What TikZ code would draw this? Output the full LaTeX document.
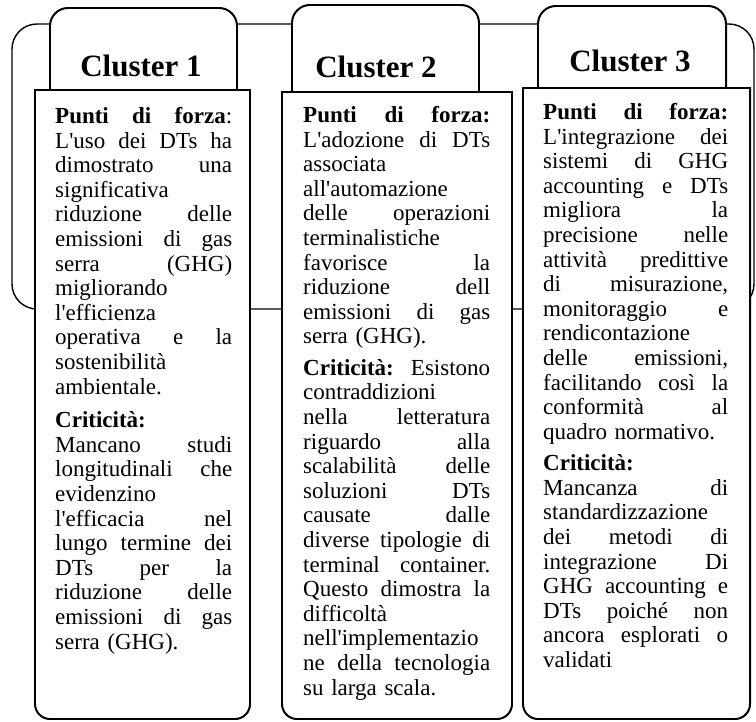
\documentclass[tikz,border=0pt]{standalone}
\usepackage{fontspec}
\setmainfont{Liberation Serif}
\usepackage{tikz}
\setlength{\parindent}{0pt}
\def\jl#1{\makebox[\hsize][s]{\spaceskip=.25em plus 1fil\xspaceskip=\spaceskip #1}}
\def\apo{\textquotesingle}

\begin{document}
\begin{tikzpicture}[x=1pt, y=-1pt,
		frame/.style={line width=0.5mm},
		tab/.style={line width=0.7mm, fill=white},
		box/.style={line width=0.7mm, fill=white},
		head/.style={anchor=base, font=\fontsize{31}{31}\selectfont\bfseries},
		txt/.style={anchor=north west, inner sep=0pt, align=left, font=\fontsize{23}{24.6}\selectfont}]
			%%%%% START %%%%%
			\useasboundingbox (0, 0) rectangle (756, 722);
			
			\draw[frame, rounded corners=25pt] (12, 24) rectangle (754, 309);
			
			\draw[tab] (50, 92) [rounded corners=18pt] -- (50, 8) -- (237, 8) [sharp corners] -- (237, 92);
			\draw[tab] (292, 94) [rounded corners=18pt] -- (292, 5) -- (479, 5) [sharp corners] -- (479, 94);
			\draw[tab] (538, 90) [rounded corners=18pt] -- (538, 6) -- (726, 6) [sharp corners] -- (726, 90);
			
			\node[head] (c1) at (141, 77) {Cluster 1};
			\node[head] (c2) at (376, 78) {Cluster 2};
			\node[head] (c3) at (630, 72) {Cluster 3};
			
			\draw[box] (35, 90) [rounded corners=15pt] -- (35, 719) -- (250, 719) [sharp corners] -- (250, 90) -- cycle;
			\draw[box] (282, 92) [rounded corners=15pt] -- (282, 719) -- (512, 719) [sharp corners] -- (512, 92) -- cycle;
			\draw[box] (523, 88) [rounded corners=15pt] -- (523, 719) -- (750, 719) [sharp corners] -- (750, 88) -- cycle;
			
			\node[txt, text width=177pt] (t1) at (55, 106) {\strut\jl{\textbf{Punti di forza}:}\\
				\jl{L\apo uso dei DTs ha}\\
				\jl{dimostrato una}\\
				significativa\\
				\jl{riduzione delle}\\
				\jl{emissioni di gas}\\
				\jl{serra (GHG)}\\
				migliorando\\
				l\apo efficienza\\
				\jl{operativa e la}\\
				sostenibilità\\
				ambientale.\\[9pt]
				\textbf{Criticità:}\\
				\jl{Mancano studi}\\
				\jl{longitudinali che}\\
				evidenzino\\
				\jl{l\apo efficacia nel}\\
				\jl{lungo termine dei}\\
				\jl{DTs per la}\\
				\jl{riduzione delle}\\
				\jl{emissioni di gas}\\
				serra (GHG).};
			
			\node[txt, text width=187pt] (t2) at (303, 105) {\strut\jl{\textbf{Punti di forza:}}\\
				\jl{L\apo adozione di DTs}\\
				associata\\
				all\apo automazione\\
				\jl{delle operazioni}\\
				terminalistiche\\
				\jl{favorisce la}\\
				\jl{riduzione dell}\\
				\jl{emissioni di gas}\\
				serra (GHG).\\[6.8pt]
				\jl{\textbf{Criticità:} Esistono}\\
				contraddizioni\\
				\jl{nella letteratura}\\
				\jl{riguardo alla}\\
				\jl{scalabilità delle}\\
				\jl{soluzioni DTs}\\
				\jl{causate dalle}\\
				\jl{diverse tipologie di}\\
				\jl{terminal container.}\\
				\jl{Questo dimostra la}\\
				difficoltà\\
				nell\apo implementazio\\
				\jl{ne della tecnologia}\\
				su larga scala.};
			
			\node[txt, text width=185pt] (t3) at (543, 102) {\strut\jl{\textbf{Punti di forza:}}\\
				\jl{L\apo integrazione dei}\\
				\jl{sistemi di GHG}\\
				\jl{accounting e DTs}\\
				\jl{migliora la}\\
				\jl{precisione nelle}\\
				\jl{attività predittive}\\
				\jl{di misurazione,}\\
				\jl{monitoraggio e}\\
				rendicontazione\\
				\jl{delle emissioni,}\\
				\jl{facilitando così la}\\
				\jl{conformità al}\\
				quadro normativo.\\[6.8pt]
				\textbf{Criticità:}\\
				\jl{Mancanza di}\\
				standardizzazione\\
				\jl{dei metodi di}\\
				\jl{integrazione Di}\\
				\jl{GHG accounting e}\\
				\jl{DTs poiché non}\\
				\jl{ancora esplorati o}\\
				validati};
			
			%%%%% END %%%%%
		\end{tikzpicture}
\end{document}
